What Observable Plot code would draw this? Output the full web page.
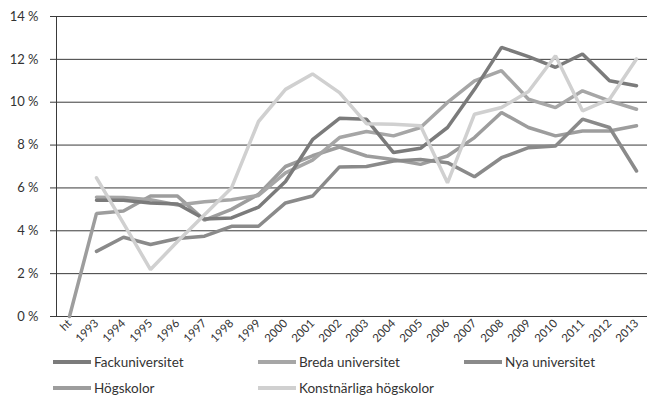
<!DOCTYPE html>
<html><head><meta charset="utf-8">
<script src="https://cdn.jsdelivr.net/npm/d3@7"></script>
<script src="https://cdn.jsdelivr.net/npm/@observablehq/plot@0.6"></script>
<style>
body{margin:0;background:#fff;font-family:Lato,"Open Sans",sans-serif;}
#legend{position:relative;height:69px;font-size:13.5px;color:#333;}
.item{position:absolute;display:flex;align-items:center;white-space:nowrap;transform:translateY(-50%);}
.sw{width:38px;height:4px;margin-right:3px;}
</style></head><body><div id="chart"></div><div id="legend"></div>
<script>
const categories = ["ht","1993","1994","1995","1996","1997","1998","1999","2000","2001","2002","2003","2004","2005","2006","2007","2008","2009","2010","2011","2012","2013"];
const seriesNames = ["Fackuniversitet","Breda universitet","Nya universitet","Högskolor","Konstnärliga högskolor"];
const seriesColors = ["#7b7b7b","#a6a6a6","#8a8a8a","#9d9d9d","#d0d0d0"];
const fackuniversitet = [null,5.42,5.42,5.3,5.25,4.55,4.6,5.1,6.3,8.25,9.25,9.2,7.65,7.85,8.82,10.6,12.56,12.13,11.63,12.25,11.0,10.77];
const bredaUniversitet = [null,5.57,5.55,5.45,5.2,5.35,5.45,5.65,6.7,7.3,8.35,8.63,8.43,8.82,9.99,11.0,11.47,10.14,9.75,10.53,10.06,9.67];
const nyaUniversitet = [null,3.04,3.7,3.36,3.64,3.75,4.21,4.21,5.3,5.62,6.98,7.0,7.26,7.33,7.18,6.52,7.41,7.88,7.96,9.21,8.82,6.79];
const hogskolor = [0,4.81,4.92,5.62,5.62,4.5,5.0,5.7,7.0,7.5,7.91,7.49,7.33,7.1,7.49,8.35,9.52,8.82,8.43,8.66,8.66,8.9];
const konstnarliga = [null,6.47,4.35,2.19,3.5,4.75,6.0,9.1,10.6,11.32,10.45,9.0,8.97,8.9,6.24,9.44,9.75,10.5,12.17,9.6,10.14,12.02];
const yTicks = [0,2,4,6,8,10,12,14];

const seriesValues = [fackuniversitet, bredaUniversitet, nyaUniversitet, hogskolor, konstnarliga];
const drawOrder = [3,1,2,0,4];
const data = [];
for (const i of drawOrder) {
  seriesValues[i].forEach((v, j) => {
    if (v != null) data.push({series: seriesNames[i], cat: categories[j], value: v});
  });
}

const chart = Plot.plot({
  width: 647, height: 345,
  marginLeft: 50, marginRight: 0, marginTop: 16, marginBottom: 29,
  style: {fontFamily: "Lato, 'Open Sans', sans-serif", fontSize: "12px", color: "#333", background: "white"},
  x: {type: "point", domain: categories, padding: 0, insetLeft: 13, insetRight: 6, label: null},
  y: {domain: [0, 14], label: null},
  color: {domain: seriesNames, range: seriesColors},
  marks: [
    Plot.ruleY(yTicks, {stroke: "#3a3a3a", strokeWidth: 1}),
    Plot.ruleX([categories[0]], {dx: -13, stroke: "#3a3a3a", strokeWidth: 1}),
    Plot.axisY({ticks: yTicks, tickSize: 0, tickPadding: 12, tickFormat: d => d + " %", fontSize: 13}),
    Plot.axisX({tickSize: 0, tickRotate: -45, tickPadding: 5, fontSize: 11.5}),
    Plot.line(data, {x: "cat", y: "value", z: "series", stroke: "series", strokeWidth: 3.5, strokeLinejoin: "miter"})
  ]
});
document.getElementById("chart").appendChild(chart);

const legend = document.getElementById("legend");
const pos = [[53,17],[258,17],[464,17],[53,43],[258,43]];
const legendOrder = [0,1,2,3,4];
legendOrder.forEach((i, k) => {
  const it = document.createElement("div");
  it.className = "item";
  it.style.left = pos[k][0] + "px";
  it.style.top = pos[k][1] + "px";
  const sw = document.createElement("span");
  sw.className = "sw";
  sw.style.background = seriesColors[i];
  const tx = document.createElement("span");
  tx.textContent = seriesNames[i];
  it.appendChild(sw); it.appendChild(tx);
  legend.appendChild(it);
});
</script></body></html>
